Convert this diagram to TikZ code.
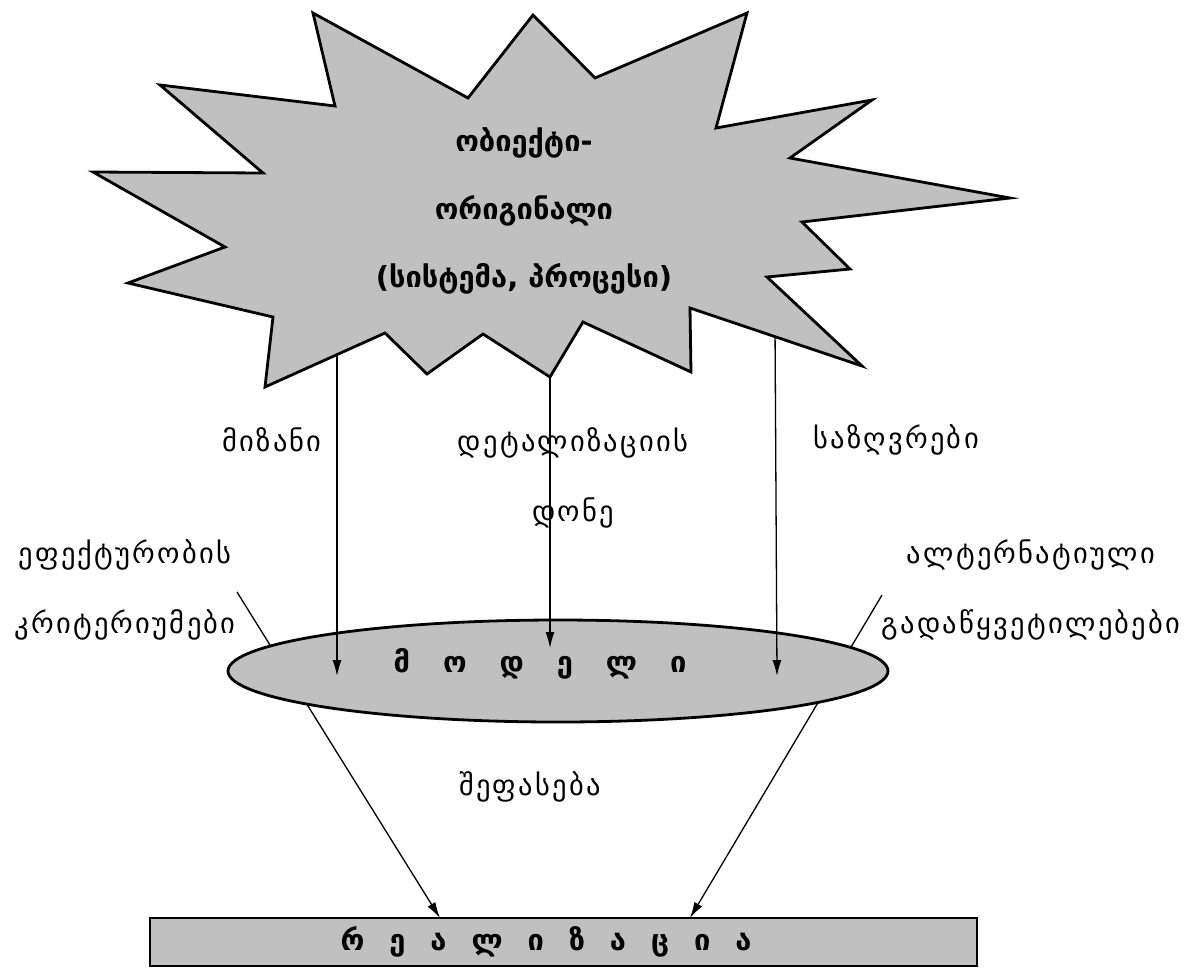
\documentclass[tikz,border=0pt]{standalone}
\usepackage{fontspec}
\setmainfont{DejaVu Sans}
\newfontfamily\spacedfont{DejaVu Sans}[LetterSpace=8]
\usetikzlibrary{arrows.meta,shapes.geometric}
\definecolor{panelgray}{RGB}{192,192,192}

\begin{document}
\begin{tikzpicture}[x=1pt,y=-1pt,
  outlined/.style={fill=panelgray,draw=black,line width=2.8pt},
  lbl/.style={inner sep=0pt,align=center,font=\spacedfont\fontsize{28.5}{70}\selectfont},
  head/.style={inner sep=0pt,align=center,font=\bfseries\fontsize{29}{68}\selectfont},
  flow/.style={draw=black,line width=1.3pt,-{Latex[length=16pt,width=9pt]}}]
\useasboundingbox (0,0) rectangle (1188,967);

% anchor points of the connectors
\coordinate (effTop) at (237,592);
\coordinate (altTop) at (882,595);
\coordinate (goalTop) at (337,345);
\coordinate (detTop) at (550,365);
\coordinate (bndTop) at (775,325);

% lower block
\node[outlined,rectangle,minimum width=827,minimum height=48] (real) at (563.5,942) {};
\coordinate (realL) at (440,918);
\coordinate (realR) at (690,918);

% assessment lines pass behind the model ellipse
\draw[flow] (effTop) -- (realL);
\draw[flow] (altTop) -- (realR);

% model ellipse
\node[outlined,ellipse,minimum width=660,minimum height=102,inner sep=0pt] (model) at (558,671) {};
\coordinate (goalEnd) at (337,676);
\coordinate (detEnd) at (550,648);
\coordinate (bndEnd) at (777,676);

\draw[flow] (goalTop) -- (goalEnd);
\draw[flow] (detTop) -- (detEnd);
\draw[flow] (bndTop) -- (bndEnd);

% original object: jagged burst
\draw[outlined,line join=miter] (1010,198) -- (802,222) -- (850,269) -- (767,277) -- (862,366)
  -- (690,308) -- (691,372) -- (583,322) -- (550,377) -- (483,334) -- (427,374)
  -- (385,333) -- (265,387) -- (273,317) -- (128,283) -- (225,247) -- (93,172)
  -- (263,173) -- (160,85) -- (335,106) -- (313,13) -- (468,98) -- (533,15)
  -- (595,78) -- (747,13) -- (716,128) -- (872,100) -- (790,158) -- cycle;

\node[head] (object) at (524,211) {ობიექტი-\\ორიგინალი\\(სისტემა, პროცესი)};

% texts
\node[head] (modelText) at (540,664) {\spaceskip=33pt მ ო დ ე ლ ი};
\node[head] (realText) at (546,942) {\spaceskip=25pt რ ე ა ლ ი ზ ა ც ი ა};

\node[lbl] (goal) at (272,440) {მიზანი};
\node[lbl] (detail) at (573,478) {დეტალიზაციის\\დონე};
\node[lbl] (bounds) at (896,440) {საზღვრები};
\node[lbl] (eff) at (125,590) {ეფექტურობის\\კრიტერიუმები};
\node[lbl] (alt) at (1031,590) {ალტერნატიული\\გადაწყვეტილებები};
\node[lbl] (assess) at (530,787) {შეფასება};
\end{tikzpicture}
\end{document}
